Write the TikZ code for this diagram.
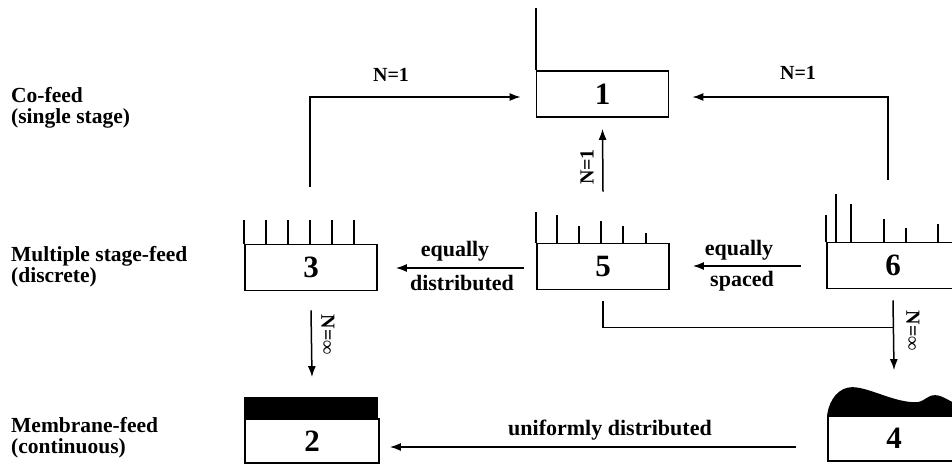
\documentclass[tikz,border=0pt]{standalone}
\usepackage{fontspec}
\setmainfont{Liberation Serif}
\usetikzlibrary{arrows.meta}
\begin{document}
\begin{tikzpicture}[x=1pt,y=-1pt,
  box/.style={draw,line width=1.7pt,minimum width=132pt,minimum height=46pt,inner sep=0pt,
    font=\fontsize{31}{31}\selectfont\bfseries},
  lab/.style={font=\fontsize{22}{19}\selectfont\bfseries,inner sep=0pt},
  nlab/.style={font=\fontsize{20}{20}\selectfont\bfseries,inner sep=0pt},
  side/.style={font=\fontsize{21.5}{21}\selectfont\bfseries,inner sep=0pt,align=left,anchor=west},
  arr/.style={-{Latex[length=11pt,width=8pt]},line width=1.5pt},
  conn/.style={line width=1.5pt},
  tick/.style={line width=1.7pt}]
\clip (0,0) rectangle (952,466);
\fill[white] (0,0) rectangle (952,466);
% boxes
\node[box] (b1) at (602.5,94) {1};
\node[box] (b3) at (311,267.5) {3};
\node[box] (b5) at (603,266.5) {5};
\node[box] (b6) at (893,265.5) {6};
\node[box,minimum height=44pt,minimum width=134pt] (b2) at (312,441) {2};
\node[box,minimum height=45pt] (b4) at (894,438.5) {4};
% feed marks
\draw[tick] (b1.north west) -- ++(0,-62);
\foreach \dx in {0,21.5,43.5,65.5,87.5,109.5}
  \draw[tick] ([xshift=\dx pt]b3.north west) -- ++(0,-24);
\foreach \dx/\h in {0/31,21/28,43/17,65/22,87/17,110/10}
  \draw[tick] ([xshift=\dx pt]b5.north west) -- ++(0,-\h);
\foreach \dx/\h in {0/27,10/48,25/38,58/23,80/14,112/18}
  \draw[tick] ([xshift=\dx pt]b6.north west) -- ++(0,-\h);
\fill[shift={(b2.north west)}] (0,0) rectangle (134,-21);
\fill[shift={(b4.north west)}] (0,0) .. controls (2,-16) and (12,-28) .. (25,-28)
  .. controls (42,-28) and (68,-12) .. (90,-13)
  .. controls (98,-14) and (100,-20) .. (108,-20)
  .. controls (116,-20) and (124,-12) .. (134,-10) -- (134,0) -- cycle;
% connectors
\draw[arr] ([xshift=-1pt,yshift=57pt]b3.north) |- ([xshift=-15pt,yshift=-3pt]b1.west);
\draw[arr] ([xshift=-5pt,yshift=62pt]b6.north) |- ([xshift=23pt,yshift=-3pt]b1.east);
\draw[arr] ([yshift=51pt]b5.north) -- ([yshift=-11pt]b1.south);
\draw[arr] ([xshift=-12pt,yshift=-1.5pt]b5.west) -- ([xshift=18pt,yshift=-0.5pt]b3.east);
\draw[arr] ([xshift=-25pt,yshift=-0.5pt]b6.west) -- ([xshift=23pt,yshift=0.5pt]b5.east);
\draw[conn] ([yshift=-11pt]b5.south) |- ([yshift=-38pt]b6.south);
\draw[arr] ([yshift=-11pt]b6.south) -- ([yshift=45pt]b4.north);
\draw[arr] ([yshift=-19pt]b3.south) -- ([yshift=41pt]b2.north);
\draw[arr] ([xshift=-31pt,yshift=-8.5pt]b4.west) -- ([xshift=10pt,yshift=-6pt]b2.east);
% labels
\node[nlab] (n1) at (391,75) {N=1};
\node[nlab] (n2) at (798,73) {N=1};
\node[nlab,rotate=90] (n3) at (587,167) {N=1};
\node[nlab,rotate=-90] (n4) at (328,335) {N=∞};
\node[nlab,rotate=-90] (n5) at (913,331) {N=∞};
\node[lab] (e1) at (455,251) {equally};
\node[lab] (d1) at (462,283) {distributed};
\node[lab] (e2) at (739,250) {equally};
\node[lab] (s2) at (742,281) {spaced};
\node[lab] (u1) at (610,430) {uniformly distributed};
\node[side] (t1) at (11,108) {Co-feed\\(single stage)};
\node[side] (t2) at (11,267) {Multiple stage-feed\\(discrete)};
\node[side] (t3) at (11,438) {Membrane-feed\\(continuous)};
\end{tikzpicture}
\end{document}
